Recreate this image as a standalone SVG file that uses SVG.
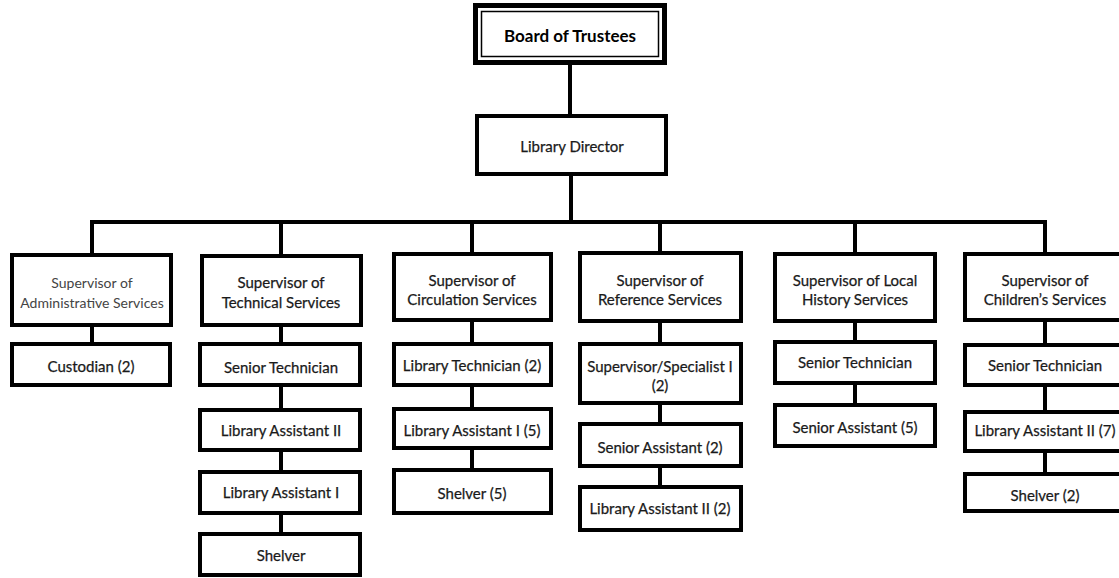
<svg xmlns="http://www.w3.org/2000/svg" width="1119" height="578" viewBox="0 0 1119 578">
<style>
  .box { fill: #ffffff; stroke: #000000; stroke-width: 4; }
  .conn { stroke: #000000; stroke-width: 4; fill: none; stroke-linecap: square; }
  .t { font-family: Lato, "Liberation Sans", sans-serif; font-size: 15px; fill: #1a1a1a; stroke: #1a1a1a; stroke-width: 0.25; text-anchor: middle; dominant-baseline: central; }
  .light { fill: #444444; stroke: none; font-size: 14px; }
  .bold { font-weight: bold; font-size: 17px; fill: #000; stroke: none; }
</style>
<rect x="0" y="0" width="1119" height="578" fill="#ffffff"/>
<g id="connectors">
  <line class="conn" x1="570" y1="66" x2="570" y2="114"/>
  <line class="conn" x1="571" y1="176" x2="571" y2="222"/>
  <line class="conn" x1="92" y1="222" x2="1045" y2="222"/>
  <line class="conn" x1="92" y1="222" x2="92" y2="253"/>
  <line class="conn" x1="281" y1="222" x2="281" y2="254"/>
  <line class="conn" x1="472" y1="222" x2="472" y2="252"/>
  <line class="conn" x1="660" y1="222" x2="660" y2="251"/>
  <line class="conn" x1="855" y1="222" x2="855" y2="252"/>
  <line class="conn" x1="1045" y1="222" x2="1045" y2="252"/>
  <line class="conn" x1="92" y1="327" x2="92" y2="342"/>
  <line class="conn" x1="281" y1="327" x2="281" y2="342"/>
  <line class="conn" x1="281" y1="387" x2="281" y2="408"/>
  <line class="conn" x1="281" y1="452" x2="281" y2="470"/>
  <line class="conn" x1="281" y1="515" x2="281" y2="532"/>
  <line class="conn" x1="472" y1="322" x2="472" y2="342"/>
  <line class="conn" x1="472" y1="387" x2="472" y2="407"/>
  <line class="conn" x1="472" y1="450" x2="472" y2="468"/>
  <line class="conn" x1="660" y1="323" x2="660" y2="342"/>
  <line class="conn" x1="660" y1="405" x2="660" y2="422"/>
  <line class="conn" x1="660" y1="468" x2="660" y2="485"/>
  <line class="conn" x1="855" y1="323" x2="855" y2="340"/>
  <line class="conn" x1="855" y1="385" x2="855" y2="403"/>
  <line class="conn" x1="1045" y1="322" x2="1045" y2="343"/>
  <line class="conn" x1="1045" y1="387" x2="1045" y2="410"/>
  <line class="conn" x1="1045" y1="453" x2="1045" y2="472"/>
</g>
<g id="board">
  <rect x="475.5" y="5.5" width="189" height="57" fill="#fff" stroke="#000" stroke-width="5"/>
  <rect x="481.5" y="11.5" width="177" height="45" fill="none" stroke="#000" stroke-width="1.5"/>
  <text class="t bold" x="570" y="35">Board of Trustees</text>
</g>
<g id="director">
  <rect class="box" x="477" y="116" width="189" height="58"/>
  <text class="t" x="572" y="146">Library Director</text>
</g>
<g id="sup-admin">
  <rect class="box" x="12" y="255" width="159" height="70"/>
  <text class="t light" x="92" y="282">Supervisor of</text>
  <text class="t light" x="92" y="302">Administrative Services</text>
</g>
<g id="custodian">
  <rect class="box" x="12" y="344" width="158" height="41"/>
  <text class="t" x="91" y="366">Custodian (2)</text>
</g>
<g id="sup-tech">
  <rect class="box" x="202" y="256" width="159" height="69"/>
  <text class="t" x="281" y="282">Supervisor of</text>
  <text class="t" x="281" y="302">Technical Services</text>
</g>
<g id="tech-senior-technician">
  <rect class="box" x="200" y="344" width="160" height="41"/>
  <text class="t" x="281" y="367">Senior Technician</text>
</g>
<g id="tech-library-assistant-2">
  <rect class="box" x="200" y="410" width="160" height="40"/>
  <text class="t" x="281" y="430">Library Assistant II</text>
</g>
<g id="tech-library-assistant-1">
  <rect class="box" x="200" y="472" width="160" height="41"/>
  <text class="t" x="281" y="492">Library Assistant I</text>
</g>
<g id="tech-shelver">
  <rect class="box" x="200" y="534" width="160" height="41"/>
  <text class="t" x="281" y="555">Shelver</text>
</g>
<g id="sup-circ">
  <rect class="box" x="394" y="254" width="157" height="66"/>
  <text class="t" x="472" y="280">Supervisor of</text>
  <text class="t" x="472" y="299">Circulation Services</text>
</g>
<g id="circ-library-technician">
  <rect class="box" x="394" y="344" width="157" height="41"/>
  <text class="t" x="472" y="365">Library Technician (2)</text>
</g>
<g id="circ-library-assistant-1">
  <rect class="box" x="394" y="409" width="157" height="39"/>
  <text class="t" x="472" y="430">Library Assistant I (5)</text>
</g>
<g id="circ-shelver">
  <rect class="box" x="394" y="470" width="157" height="43"/>
  <text class="t" x="472" y="493">Shelver (5)</text>
</g>
<g id="sup-ref">
  <rect class="box" x="580" y="253" width="161" height="68"/>
  <text class="t" x="660" y="280">Supervisor of</text>
  <text class="t" x="660" y="299">Reference Services</text>
</g>
<g id="ref-supervisor-specialist">
  <rect class="box" x="580" y="344" width="161" height="59"/>
  <text class="t" x="660" y="366">Supervisor/Specialist I</text>
  <text class="t" x="660" y="385">(2)</text>
</g>
<g id="ref-senior-assistant">
  <rect class="box" x="580" y="424" width="161" height="42"/>
  <text class="t" x="660" y="447">Senior Assistant (2)</text>
</g>
<g id="ref-library-assistant-2">
  <rect class="box" x="580" y="487" width="161" height="43"/>
  <text class="t" x="660" y="508">Library Assistant II (2)</text>
</g>
<g id="sup-local">
  <rect class="box" x="775" y="254" width="160" height="67"/>
  <text class="t" x="855" y="280">Supervisor of Local</text>
  <text class="t" x="855" y="299">History Services</text>
</g>
<g id="local-senior-technician">
  <rect class="box" x="775" y="342" width="160" height="41"/>
  <text class="t" x="855" y="362">Senior Technician</text>
</g>
<g id="local-senior-assistant">
  <rect class="box" x="775" y="405" width="160" height="41"/>
  <text class="t" x="855" y="427">Senior Assistant (5)</text>
</g>
<g id="sup-children">
  <rect class="box" x="965" y="254" width="160" height="66"/>
  <text class="t" x="1045" y="280">Supervisor of</text>
  <text class="t" x="1045" y="299">Children’s Services</text>
</g>
<g id="child-senior-technician">
  <rect class="box" x="965" y="345" width="160" height="40"/>
  <text class="t" x="1045" y="365">Senior Technician</text>
</g>
<g id="child-library-assistant-2">
  <rect class="box" x="965" y="412" width="160" height="39"/>
  <text class="t" x="1045" y="430">Library Assistant II (7)</text>
</g>
<g id="child-shelver">
  <rect class="box" x="965" y="474" width="160" height="37"/>
  <text class="t" x="1045" y="495">Shelver (2)</text>
</g>
</svg>
